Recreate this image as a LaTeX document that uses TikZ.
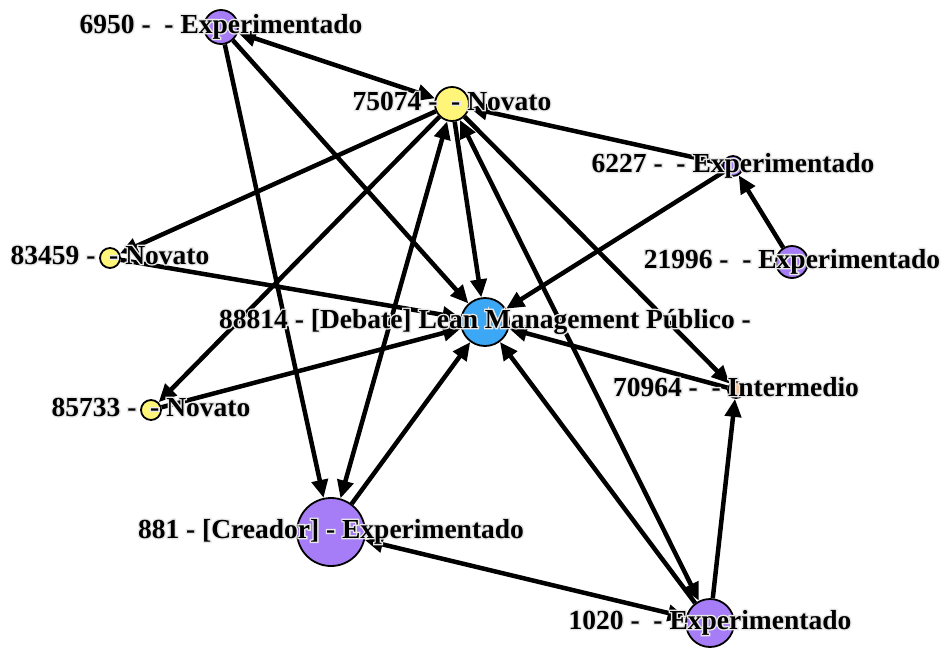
\documentclass[tikz,border=0pt]{standalone}
\usepackage{fontspec}
\setmainfont{Liberation Serif}
\newfontfamily\halofont[FakeBold=10]{Liberation Serif Bold}
\usetikzlibrary{arrows.meta}
\definecolor{purp}{RGB}{166,124,247}
\definecolor{yell}{RGB}{255,245,120}
\definecolor{bluec}{RGB}{60,168,245}
\definecolor{oran}{RGB}{248,196,150}
\definecolor{halo}{RGB}{232,232,232}
\newcommand\haloed[1]{\leavevmode\rlap{\halofont\color{halo}#1}#1}
\begin{document}
\begin{tikzpicture}[x=1pt,y=-1pt,
  vert/.style={circle, draw=black, line width=1.8pt, inner sep=0pt},
  lbl/.style={font=\fontsize{27.5}{30}\selectfont\bfseries, inner sep=0pt, text height=18pt, text depth=6pt, anchor=center},
  edge/.style={line width=4.5pt, -{Triangle[length=18pt,width=16pt]}},
  biedge/.style={line width=4.5pt, {Triangle[length=18pt,width=16pt]}-{Triangle[length=18pt,width=16pt]}}]
\useasboundingbox (0,0) rectangle (945,651);
% vertices
\node[vert, fill=purp, minimum size=34pt] (n6950) at (221,27) {};
\node[vert, fill=yell, minimum size=34pt] (n75074) at (452,104) {};
\node[vert, fill=purp, minimum size=20pt] (n6227) at (733,166) {};
\node[vert, fill=purp, minimum size=32pt] (n21996) at (792,262) {};
\node[vert, fill=yell, minimum size=20pt] (n83459) at (110,258) {};
\node[vert, fill=bluec, minimum size=48pt] (n88814) at (485,322) {};
\node[vert, fill=oran, minimum size=16pt] (n70964) at (736,390) {};
\node[vert, fill=yell, minimum size=20pt] (n85733) at (151,410) {};
\node[vert, fill=purp, minimum size=68pt] (n881) at (331,532) {};
\node[vert, fill=purp, minimum size=48pt] (n1020) at (710,623) {};
% edges
\draw[biedge] (n6950) -- (n75074);
\draw[edge] (n6950) -- (n881);
\draw[edge] (n6950) -- (n88814);
\draw[edge] (n75074) -- (n83459);
\draw[edge] (n75074) -- (n85733);
\draw[edge] (n75074) -- (n88814);
\draw[biedge] (n75074) -- (n881);
\draw[biedge] (n75074) -- (n1020);
\draw[edge] (n75074) -- (n70964);
\draw[edge] (n6227) -- (n75074);
\draw[edge] (n21996) -- (n6227);
\draw[edge] (n6227) -- (n88814);
\draw[edge] (n83459) -- (n88814);
\draw[edge] (n85733) -- (n88814);
\draw[edge] (n881) -- (n88814);
\draw[edge] (n1020) -- (n88814);
\draw[edge] (n70964) -- (n88814);
\draw[edge] (n1020) -- (n70964);
\draw[biedge] (n881) -- (n1020);
% labels
\node[lbl] (l6950) at (n6950.center) {\haloed{6950 -\ \ - Experimentado}};
\node[lbl] (l75074) at (n75074.center) {\haloed{75074 -\ \ - Novato}};
\node[lbl] (l6227) at (n6227.center) {\haloed{6227 -\ \ - Experimentado}};
\node[lbl] (l21996) at (n21996.center) {\haloed{21996 -\ \ - Experimentado}};
\node[lbl] (l83459) at (n83459.center) {\haloed{83459 -\ \ - Novato}};
\node[lbl] (l88814) at (n88814.center) {\haloed{88814 - [Debate] Lean Management Público -}};
\node[lbl] (l70964) at (n70964.center) {\haloed{70964 -\ \ - Intermedio}};
\node[lbl] (l85733) at (n85733.center) {\haloed{85733 -\ \ - Novato}};
\node[lbl] (l881) at (n881.center) {\haloed{881 - [Creador] - Experimentado}};
\node[lbl] (l1020) at (n1020.center) {\haloed{1020 -\ \ - Experimentado}};
\end{tikzpicture}
\end{document}
